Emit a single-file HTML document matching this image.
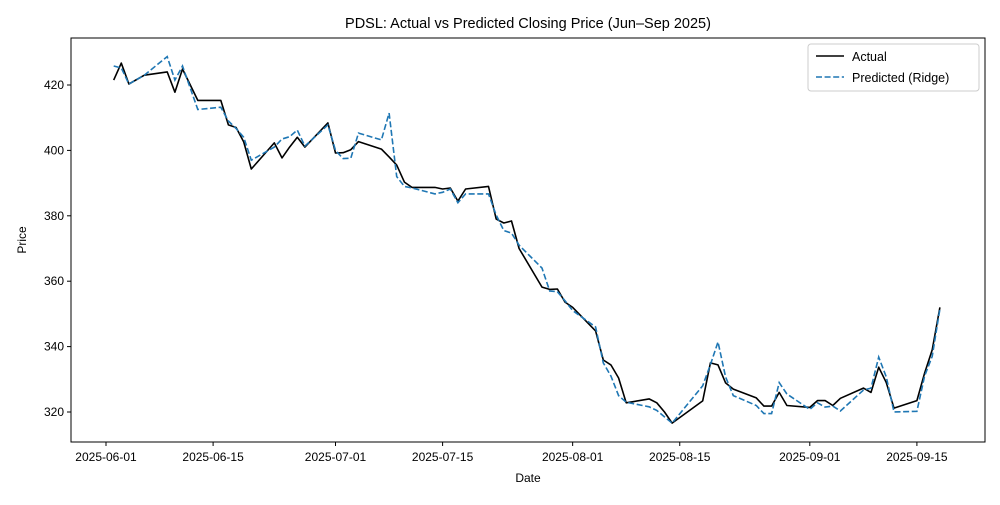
<!DOCTYPE html>
<html><head><meta charset="utf-8"><style>
body{margin:0;background:#fff}
svg{font-family:"Liberation Sans","DejaVu Sans",sans-serif}
</style></head><body>
<svg id="c" width="1000" height="500" viewBox="0 0 1000 500"></svg>
<script>
const dates=["2025-06-02","2025-06-03","2025-06-04","2025-06-06","2025-06-09","2025-06-10","2025-06-11","2025-06-13","2025-06-16","2025-06-17","2025-06-18","2025-06-19","2025-06-20","2025-06-23","2025-06-24","2025-06-25","2025-06-26","2025-06-27","2025-06-30","2025-07-01","2025-07-02","2025-07-03","2025-07-04","2025-07-07","2025-07-08","2025-07-09","2025-07-10","2025-07-11","2025-07-14","2025-07-15","2025-07-16","2025-07-17","2025-07-18","2025-07-21","2025-07-22","2025-07-23","2025-07-24","2025-07-25","2025-07-28","2025-07-29","2025-07-30","2025-07-31","2025-08-01","2025-08-04","2025-08-05","2025-08-06","2025-08-07","2025-08-08","2025-08-11","2025-08-12","2025-08-13","2025-08-14","2025-08-18","2025-08-19","2025-08-20","2025-08-21","2025-08-22","2025-08-25","2025-08-26","2025-08-27","2025-08-28","2025-08-29","2025-09-01","2025-09-02","2025-09-03","2025-09-04","2025-09-05","2025-09-08","2025-09-09","2025-09-10","2025-09-11","2025-09-12","2025-09-15","2025-09-16","2025-09-17","2025-09-18"];
const actual=[421.5,426.7,420.3,423,424,417.8,424.9,415.3,415.3,407.8,407,402.6,394.3,402.3,397.7,401,404,401,408.4,399.2,399.3,400.2,402.7,400.4,398,395.5,390.3,388.7,388.7,388.2,388.5,384.5,388.2,389,379,377.8,378.4,370,358.2,357.5,357.6,353.6,352,344.8,335.9,334.4,330.4,322.8,324,322.8,320,316.6,323.4,335,334.4,328.9,327,324.3,321.8,321.8,326,322,321.4,323.5,323.5,322,324.2,327.3,326,333.7,329,321.2,323.5,331.9,339,352];
const predicted=[425.8,425.2,420.3,423,428.7,421.5,425.8,412.5,413.2,409,406.7,404,397,401,403.5,404.2,406.2,401.3,407.8,400,397.5,397.6,405.3,403.2,411.4,392,389,388.5,386.7,387.2,388.2,384,386.7,386.7,380.2,375.5,374.7,371,364,357,356.8,354,351,346,335,331,325,323,321.6,320.5,318.5,316.6,328,334.5,341.4,330.7,325,322,319.5,319.5,329,325.5,320.8,322.8,321.5,321.8,320.3,326.7,327.3,336.8,330.7,320,320.2,331,337,351.5];
const yTicks=[320,340,360,380,400,420];
const xTicks=["2025-06-01","2025-06-15","2025-07-01","2025-07-15","2025-08-01","2025-08-15","2025-09-01","2025-09-15"];
const NS="http://www.w3.org/2000/svg",svg=document.getElementById('c');
const L=71,R=985,T=38,B=442;
const d0=Date.UTC(2025,5,1);
function dayOf(s){const p=s.split('-');return (Date.UTC(+p[0],p[1]-1,+p[2])-d0)/864e5;}
const xs=s=>106+dayOf(s)*7.65;
const ys=v=>85+(420-v)*3.27;
function el(t,a,txt){const e=document.createElementNS(NS,t);for(const k in a)e.setAttribute(k,a[k]);if(txt!=null)e.textContent=txt;svg.appendChild(e);return e;}
let e;
e=el('rect',{x:L,y:T,width:R-L,height:B-T,fill:'none',stroke:'#000','stroke-width':1});


yTicks.forEach(v=>{const y=ys(v);
 e=el('line',{x1:L-4,x2:L,y1:y,y2:y,stroke:'#000'});
 
 
 e=el('text',{x:L-7,y:y+4,'text-anchor':'end','font-size':12,fill:'#000'},v);
 
 
});
xTicks.forEach(s=>{const x=xs(s);
 e=el('line',{x1:x,x2:x,y1:B,y2:B+4,stroke:'#000'});
 
 
 e=el('text',{x:x,y:B+19,'text-anchor':'middle','font-size':12,fill:'#000'},s);
 
 
});
function pts(arr){return arr.map((v,i)=>xs(dates[i]).toFixed(1)+','+ys(v).toFixed(1)).join(' ');}
e=el('polyline',{points:pts(actual),fill:'none',stroke:'#000','stroke-width':1.6,'stroke-linejoin':'round'});


e=el('polyline',{points:pts(predicted),fill:'none',stroke:'#1f77b4','stroke-width':1.6,'stroke-dasharray':'6,2.6'});


e=el('text',{x:528,y:28,'text-anchor':'middle','font-size':14.5,fill:'#000'},'PDSL: Actual vs Predicted Closing Price (Jun–Sep 2025)');


e=el('text',{x:528,y:482,'text-anchor':'middle','font-size':12,fill:'#000'},'Date');


e=el('text',{x:26,y:240,'text-anchor':'middle','font-size':12,fill:'#000',transform:'rotate(-90 26 240)'},'Price');


e=el('rect',{x:808,y:44,width:171,height:47,rx:3,fill:'#fff',stroke:'#ccc'});


e=el('line',{x1:816,x2:844,y1:56,y2:56,stroke:'#000','stroke-width':1.6});


e=el('text',{x:852,y:61,'font-size':12.5,fill:'#000'},'Actual');


e=el('line',{x1:816,x2:844,y1:77,y2:77,stroke:'#1f77b4','stroke-width':1.6,'stroke-dasharray':'6,2.6'});


e=el('text',{x:852,y:82,'font-size':12.5,fill:'#000'},'Predicted (Ridge)');


</script>
</body></html>
